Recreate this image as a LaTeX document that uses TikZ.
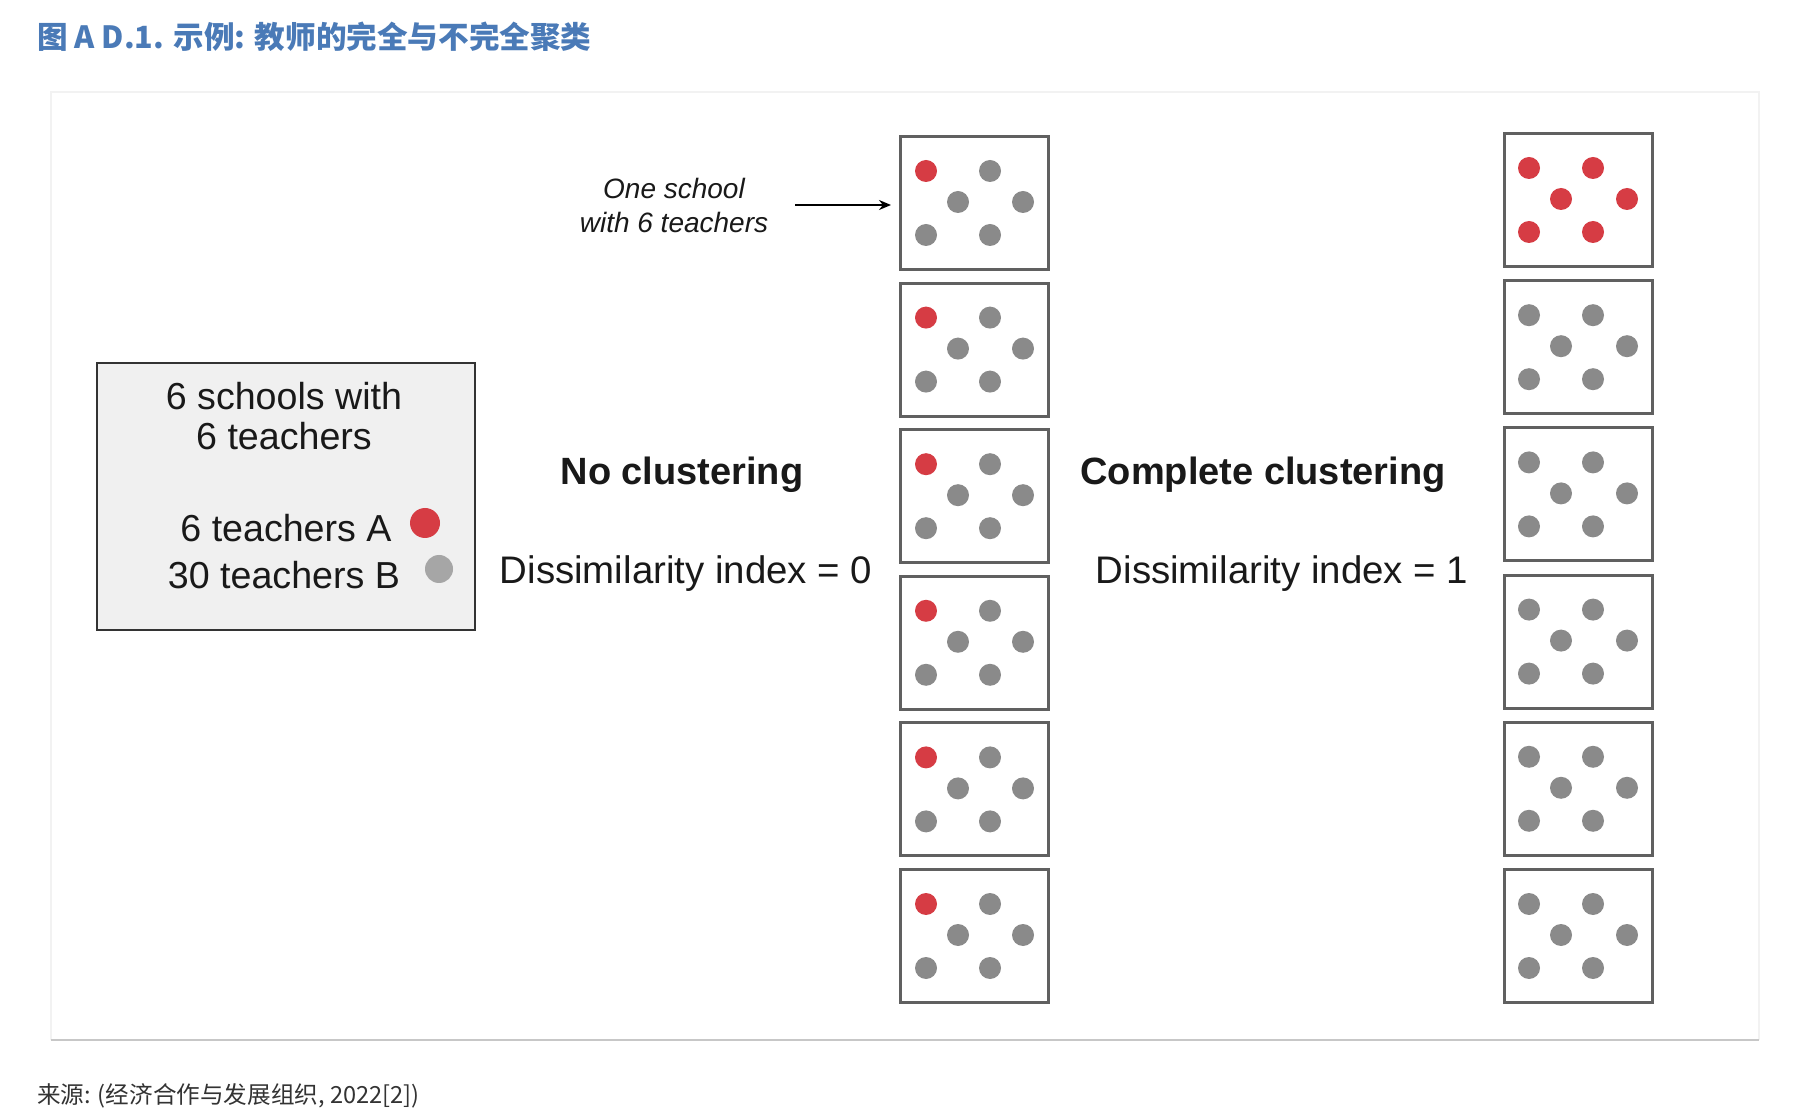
\documentclass[tikz,border=0pt]{standalone}
\usepackage{xcolor}
\usepackage{fontspec}
\setmainfont{Liberation Sans}
\newfontfamily\cjk{Noto Sans CJK SC}
\usetikzlibrary{arrows.meta}
\definecolor{titleblue}{RGB}{74,122,183}
\definecolor{teacherA}{RGB}{214,60,68}
\definecolor{teacherB}{RGB}{138,138,138}
\definecolor{boxgray}{RGB}{96,96,96}

\begin{document}
\begin{tikzpicture}[x=0.5pt, y=-0.5pt,
                        school/.style={draw=boxgray, line width=1.5pt, fill=white, minimum width=74pt, minimum height=66.5pt, inner sep=0pt, anchor=north west},
                        big/.style={font=\fontsize{18.8}{20}\selectfont, text=black!90},
                        head/.style={font=\bfseries\fontsize{19}{20}\selectfont, text=black!90}]
                        \useasboundingbox (0,0) rectangle (1812,1112);
                        \fill[white] (0,0) rectangle (1812,1112);
                        \draw[black!5, line width=1pt] (51,1040) -- (51,92) -- (1759,92) -- (1759,1040);
                        \draw[black!22, line width=1pt] (51,1040) -- (1759,1040);

                        \node (title) at (30,37) [anchor=west, font=\cjk\bfseries\fontsize{15.3}{18}\selectfont, text=titleblue] {图 A D.1. 示例: 教师的完全与不完全聚类};
                        \node (source) at (30,1096) [anchor=west, font=\cjk\fontsize{11.8}{13}\selectfont, text=black!80] {来源: (经济合作与发展组织, 2022[2])};

                        \node (legend) at (96,362) [draw=black!80, line width=1pt, fill=black!6, minimum width=189pt, minimum height=133.5pt, inner sep=0pt, anchor=north west] {};
                        \node (schools) at (284,416) [big, align=center] {6 schools with\\6 teachers};
                        \node (groupA) at (286,528) [big] {6 teachers A};
                        \node (groupB) at (284,575) [big] {30 teachers B};
                        \fill[teacherA] (425,523) circle (7.5pt);
                        \fill[black!35] (439,569) circle (7pt);

                        \node (nocl) at (682,475) [head] {No clustering};
                        \node (compl) at (1263,475) [head] {Complete clustering};
                        \node (index0) at (686,574) [big, font=\fontsize{19.2}{20}\selectfont] {Dissimilarity index = 0};
                        \node (index1) at (1282,574) [big, font=\fontsize{19.2}{20}\selectfont] {Dissimilarity index = 1};

                        \foreach \i in {1,...,6} {
                            \node (N\i) at (899, {135+146.6*(\i-1)}) [school] {};
                            \node (C\i) at (1503, {132+147.2*(\i-1)}) [school] {};
                        }
                        \foreach \i in {1,...,6} {
                            \fill[teacherA] ([shift={(27,36)}]N\i.north west) circle (5.5pt);
                            \foreach \dx/\dy in {91/36, 59/67, 124/67, 27/100, 91/100}
                                \fill[teacherB] ([shift={(\dx,\dy)}]N\i.north west) circle (5.5pt);
                        }
                        \foreach \dx/\dy in {26/36, 90/36, 58/67, 124/67, 26/100, 90/100} {
                            \fill[teacherA] ([shift={(\dx,\dy)}]C1.north west) circle (5.5pt);
                            \foreach \i in {2,...,6}
                                \fill[teacherB] ([shift={(\dx,\dy)}]C\i.north west) circle (5.5pt);
                        }

                        \node (note) at (674,205) [align=center, font=\itshape\fontsize{14}{17}\selectfont, text=black!90] {One school\\with 6 teachers};
                        \draw[-{Stealth[length=6pt, width=5pt]}, line width=0.8pt, shorten <=10pt, shorten >=4pt] (note.east) -- (note.east -| N1.west);
                    \end{tikzpicture}
\end{document}
